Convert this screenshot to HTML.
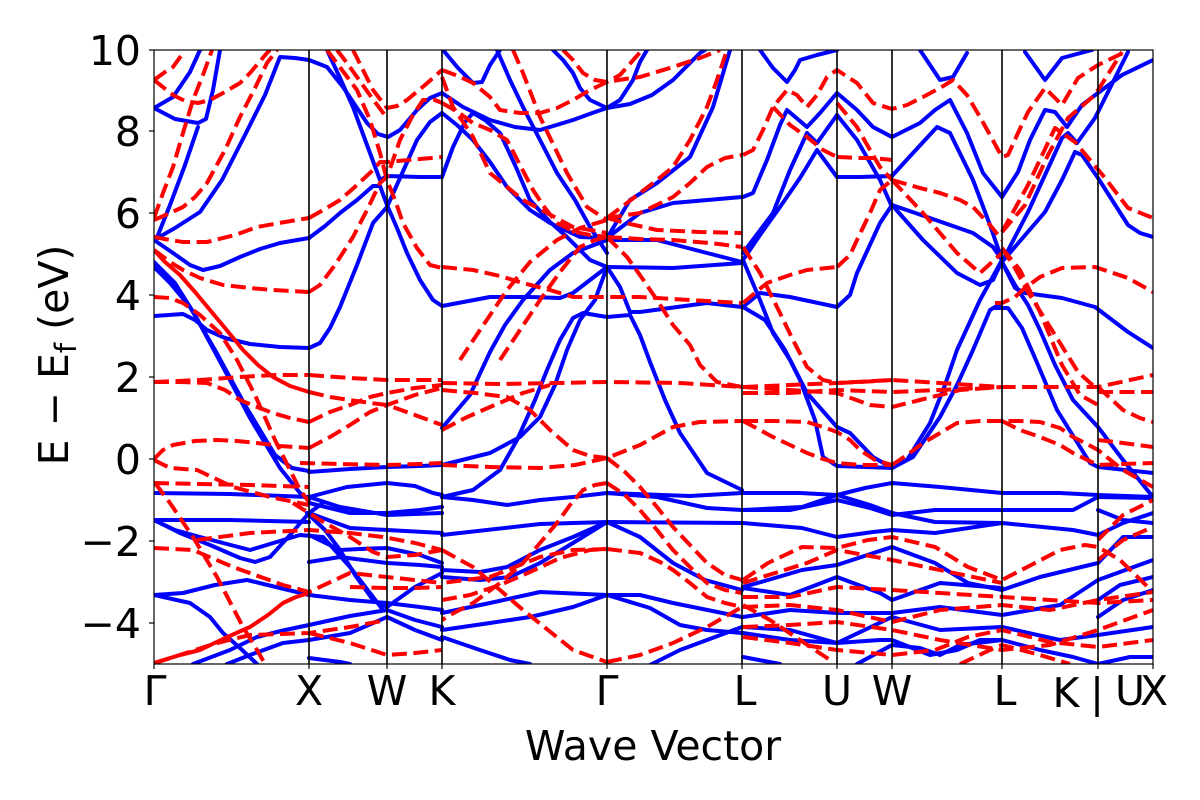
<!DOCTYPE html>
<html><head><meta charset="utf-8"><style>
html,body{margin:0;padding:0;background:#fff;}
svg{display:block;}
text{font-family:"DejaVu Sans","Liberation Sans",sans-serif;fill:#000;}
.b{fill:none;stroke:#0000ff;stroke-width:4;stroke-linejoin:round;stroke-linecap:round;}
.r{fill:none;stroke:#ff0000;stroke-width:4;stroke-dasharray:15 6.5;stroke-linejoin:round;}
.rs{fill:none;stroke:#ff0000;stroke-width:4;stroke-linejoin:round;}
.k{stroke:#000;stroke-width:1.6;}
</style></head><body>
<svg width="1200" height="800" viewBox="0 0 1200 800" xmlns="http://www.w3.org/2000/svg">
<defs><clipPath id="c"><rect x="154" y="50" width="999" height="614"/></clipPath></defs>
<rect width="1200" height="800" fill="#fff"/>
<g clip-path="url(#c)">
<g>
<polyline class="b" points="154,108 173,97 190,72 200,50"/>
<polyline class="b" points="154,108 175,119 198,123 206,119 213,90 220,50"/>
<polyline class="b" points="156,240 170,205 185,165 198,127"/>
<polyline class="b" points="154,240 175,228 200,212 222,180 245,135 265,95 280,57 295,58 309,60"/>
<polyline class="b" points="154,240 173,253 190,265 203,270 220,266 240,257 260,249 280,243 309,238"/>
<polyline class="b" points="154,267 170,283 190,307 215,350 245,405 275,455 292,468 309,471"/>
<polyline class="b" points="154,262 175,283 195,315 222,365 250,418 280,468 300,493 309,500"/>
<polyline class="b" points="154,316 183,314 195,320 207,330 225,338 250,344 280,347 309,348"/>
<polyline class="b" points="154,493 230,494 309,497"/>
<polyline class="b" points="154,520 230,520 309,522"/>
<polyline class="b" points="154,520 175,530 200,537 250,550 300,535 323,537 350,567 383,610"/>
<polyline class="b" points="154,520 180,533 210,545 240,558 255,562 270,557 290,535 309,513 323,503"/>
<polyline class="b" points="154,595 183,593 215,585 247,580 280,588 309,595 350,600 387,603 420,607 442,610"/>
<polyline class="b" points="154,595 190,603 210,617 223,633 240,648 257,664"/>
<polyline class="b" points="193,664 230,650 257,637 285,630 309,625 350,616 387,610"/>
<polyline class="b" points="227,664 250,655 283,643 309,640 350,633 387,617"/>
<polyline class="b" points="309,658 340,662 350,664"/>
<polyline class="b" points="309,60 327,67 343,87 355,105 367,123 378,134 388,137 400,130 417,110 430,98 442,93"/>
<polyline class="b" points="327,50 340,78 353,107 367,145 380,180 387,176 420,177 442,177"/>
<polyline class="b" points="309,348 320,343 330,328 340,307 357,265 373,223 387,207 400,178 417,140 430,122 442,113"/>
<polyline class="b" points="309,238 325,226 340,213 357,200 373,186 380,186 387,205 397,228 407,253 420,280 433,300 442,306"/>
<polyline class="b" points="309,472 350,469 387,467 420,466 442,465"/>
<polyline class="b" points="309,497 347,487 387,483 415,486 433,493 442,495"/>
<polyline class="b" points="309,503 350,513 387,513 420,510 442,507"/>
<polyline class="b" points="309,497 340,507 387,515 442,513"/>
<polyline class="b" points="309,513 350,528 387,530 442,533"/>
<polyline class="b" points="309,535 340,550 360,549 387,548 420,555 442,563"/>
<polyline class="b" points="307,513 325,530 340,550 355,575 373,600 387,607"/>
<polyline class="b" points="309,562 340,557 387,563 420,565 442,567"/>
<polyline class="b" points="387,607 415,587 442,573"/>
<polyline class="b" points="387,610 415,620 442,627"/>
<polyline class="b" points="387,617 415,630 442,640"/>
<polyline class="b" points="442,93 463,107 490,120 515,127 540,130 573,120 595,112 607,108"/>
<polyline class="b" points="442,113 457,125 473,140 490,162 507,187 530,210 550,223 580,237 607,238"/>
<polyline class="b" points="442,177 453,147 465,122 473,113 485,120 500,133 515,165 530,200 550,222 567,237 590,260 607,267"/>
<polyline class="b" points="497,50 510,80 523,107 540,140 557,173 575,200 590,227 607,253"/>
<polyline class="b" points="443,50 458,68 473,83 482,82 490,65 500,50"/>
<polyline class="b" points="607,108 590,100 580,88 573,73 563,60 553,50"/>
<polyline class="b" points="607,108 620,100 633,80 640,62 647,50"/>
<polyline class="b" points="607,108 630,104 652,95 673,80 700,53 705,50"/>
<polyline class="b" points="442,306 490,297 530,297 560,298 573,293 590,280 607,267"/>
<polyline class="b" points="442,465 490,453 520,437 540,417 555,385 567,350 580,320 595,300 607,267"/>
<polyline class="b" points="442,497 473,490 500,470 517,440 535,400 547,370 560,340 573,318 583,313 607,317 630,315 640,335 650,362 665,400 680,433 707,473 742,490"/>
<polyline class="b" points="442,428 470,395 490,352 505,325 523,300 550,270 573,253 607,240"/>
<polyline class="b" points="607,238 613,240 657,240 707,253 742,262"/>
<polyline class="b" points="607,238 640,213 673,203 742,197"/>
<polyline class="b" points="607,267 673,268 742,263"/>
<polyline class="b" points="607,267 620,287 630,312 640,312 707,303 742,307"/>
<polyline class="b" points="607,238 630,200 657,183 690,157 713,107 730,50"/>
<polyline class="b" points="442,497 473,500 507,505 540,500 573,497 607,493 690,496 742,493"/>
<polyline class="b" points="607,493 657,497 707,508 742,510"/>
<polyline class="b" points="442,535 540,524 607,522 742,523"/>
<polyline class="b" points="607,522 640,537 673,563 705,580 742,590"/>
<polyline class="b" points="442,570 480,572 507,567 540,550 573,537 607,522"/>
<polyline class="b" points="442,577 480,580 510,577 540,563 573,543 607,522"/>
<polyline class="b" points="442,613 490,603 540,592 607,595 640,595 673,603 742,617"/>
<polyline class="b" points="607,595 650,608 680,625 707,630 742,633"/>
<polyline class="b" points="640,670 680,650 707,640 742,627"/>
<polyline class="b" points="442,630 490,623 530,617 573,607 607,595"/>
<polyline class="b" points="442,637 480,650 510,660 530,664"/>
<polyline class="b" points="760,50 773,68 787,82 795,70 800,60 817,55 837,50"/>
<polyline class="b" points="743,197 753,193 767,160 780,125 787,110 807,127 820,113 837,93 857,110 873,127 892,137 920,123 935,110 950,100 967,133 983,173 1002,197 1018,172 1030,140 1045,110 1055,112 1067,127 1082,105 1098,93 1122,75 1153,60"/>
<polyline class="b" points="743,253 773,213 790,170 807,133 817,143 837,115 857,140 880,180 892,207"/>
<polyline class="b" points="743,260 760,235 780,207 800,178 817,150 837,177 860,177 892,176"/>
<polyline class="b" points="892,176 913,153 937,127 950,133 973,180 990,225 1002,260"/>
<polyline class="b" points="892,205 927,217 973,233 993,247 1002,260"/>
<polyline class="b" points="892,205 923,240 957,273 980,285 993,280 1002,260"/>
<polyline class="b" points="743,307 760,293 790,297 837,307"/>
<polyline class="b" points="837,307 850,295 857,273 880,223 892,205"/>
<polyline class="b" points="920,50 940,80 953,77 967,53"/>
<polyline class="b" points="1025,52 1045,80 1062,58 1092,50"/>
<polyline class="b" points="1002,262 1028,212 1045,175 1062,138 1068,133 1077,143 1095,118 1110,88 1128,52"/>
<polyline class="b" points="1002,262 1045,212 1062,180 1075,152 1082,155 1098,178 1128,225 1140,233 1153,237"/>
<polyline class="b" points="743,260 760,300 773,333 790,360 800,380 815,420 823,457 837,466 892,468"/>
<polyline class="b" points="743,307 765,320 785,350 807,393 837,427 850,433 873,457 892,468"/>
<polyline class="b" points="892,468 913,457 940,417 957,385 973,350 990,310 1002,303"/>
<polyline class="b" points="892,468 907,460 930,423 945,385 957,350 980,300 1002,260"/>
<polyline class="b" points="1002,262 1015,288 1025,293 1062,298 1095,307 1128,332 1153,348"/>
<polyline class="b" points="995,308 1008,308 1022,328 1038,365 1057,410 1090,463 1098,467 1153,473"/>
<polyline class="b" points="995,275 1002,262 1015,285 1028,305 1040,330 1055,365 1073,400 1098,427 1123,460 1153,497"/>
<polyline class="b" points="742,493 800,493 837,495 865,488 892,483 940,487 1002,493 1060,493 1098,495 1153,497"/>
<polyline class="b" points="743,510 802,507 837,495 870,505 892,513 935,522 1002,523"/>
<polyline class="b" points="743,510 790,510 837,500 870,508 892,515 935,510 1002,510 1073,510 1098,497 1153,498"/>
<polyline class="b" points="743,523 802,528 837,537 873,532 892,530 935,533 1002,523 1073,530 1098,535 1123,523 1153,513"/>
<polyline class="b" points="1098,510 1123,520 1153,523"/>
<polyline class="b" points="743,587 768,580 802,570 837,565 892,547 935,563 968,583 1002,590 1040,577 1098,563 1123,537 1153,537"/>
<polyline class="b" points="743,588 790,595 837,577 880,593 892,600 940,583 1002,588"/>
<polyline class="b" points="743,617 790,610 837,613 892,613 940,607 1002,615 1060,605 1098,580 1153,560"/>
<polyline class="b" points="743,627 790,630 837,643 892,617 940,630 1002,627 1060,640 1098,635 1153,627"/>
<polyline class="b" points="743,633 790,640 837,643 880,640 892,640 930,655 957,650 980,640 1002,640"/>
<polyline class="b" points="743,657 780,664"/>
<polyline class="b" points="857,664 892,645 920,648 940,655 960,645 1002,640 1040,650 1073,657 1098,664"/>
<polyline class="b" points="1098,664 1130,657 1153,657"/>
<polyline class="b" points="1098,600 1120,585 1153,577"/>
<polyline class="b" points="1098,617 1123,600 1153,590"/>
</g>
<g>
<polyline class="r" points="154,80 173,95 185,101 198,103 210,100 223,93 240,83 250,73 267,53 270,50"/>
<polyline class="r" points="154,80 165,72 173,67 183,53"/>
<polyline class="r" points="154,218 163,193 173,167 183,133 193,100 203,75 212,50"/>
<polyline class="r" points="154,220 170,213 183,207 195,197 207,183 225,150 240,117 255,88 267,63 277,50"/>
<polyline class="r" points="154,237 170,240 183,242 207,242 235,235 257,227 285,222 309,218"/>
<polyline class="r" points="154,250 170,262 183,270 200,278 223,285 250,288 273,290 309,292"/>
<polyline class="r" points="154,297 170,298 183,303 200,315 220,333 237,360 255,395 275,440 290,470 300,490 309,502"/>
<polyline class="rs" points="154,250 165,262 180,275 195,292 210,310 225,328 243,350 258,365 273,377 290,386 309,392"/>
<polyline class="r" points="154,382 180,382 207,383 225,390 240,400 257,407 273,413 290,418 309,422"/>
<polyline class="r" points="154,382 200,380 240,377 275,375 309,375"/>
<polyline class="r" points="154,459 163,450 173,445 195,441 217,440 237,441 257,443 280,446 309,448"/>
<polyline class="r" points="154,460 170,468 197,470 233,487 270,497 309,505"/>
<polyline class="r" points="154,483 200,484 250,485 309,487"/>
<polyline class="r" points="155,483 170,503 193,537 217,577 243,627 257,650 265,664"/>
<polyline class="r" points="154,548 193,550 233,567 283,585 309,592 350,573 387,577 442,583"/>
<polyline class="r" points="197,540 250,533 309,530 350,533 383,537 415,543 442,550"/>
<polyline class="r" points="155,663 217,643 250,635 309,633 350,627 387,620"/>
<polyline class="rs" points="154,663 180,655 200,650 225,638 250,627 268,615 283,603 296,597 309,593"/>
<polyline class="r" points="309,218 325,209 340,200 357,185 373,170 380,162 387,162 420,159 442,157"/>
<polyline class="r" points="327,50 342,70 357,90 370,120 380,153 387,180 395,200 403,223 417,248 430,265 442,268"/>
<polyline class="r" points="309,292 320,285 335,265 353,237 367,210 380,183 387,177 393,160 400,140 413,115 423,100 435,100 442,103"/>
<polyline class="r" points="353,50 363,70 373,90 387,108 397,106 407,100 425,85 442,70"/>
<polyline class="r" points="337,50 347,63 357,77 372,98 387,118"/>
<polyline class="r" points="309,375 350,378 387,380 420,380 442,380"/>
<polyline class="r" points="309,392 330,397 350,400 370,403 387,405 415,415 442,425"/>
<polyline class="r" points="309,422 330,412 350,405 370,397 387,393 415,388 442,385"/>
<polyline class="r" points="309,448 330,437 350,425 370,412 387,405 415,395 442,388"/>
<polyline class="r" points="300,463 340,464 387,465 420,464 442,463"/>
<polyline class="r" points="293,503 320,520 350,537 373,552 387,557 415,555 442,550"/>
<polyline class="r" points="350,587 387,588 415,588 442,587"/>
<polyline class="r" points="309,633 350,643 387,655 415,653 442,650"/>
<polyline class="r" points="442,70 458,76 473,83 490,97 500,110 520,113 540,113 557,108 573,100 590,90 607,82 625,79 640,77 673,67 700,58 720,50"/>
<polyline class="r" points="563,50 573,60 583,73 595,80 607,82 620,75 635,58 642,50"/>
<polyline class="r" points="442,103 458,112 473,123 490,130 507,140 520,165 533,190 545,208 557,223 575,232 590,235 607,237"/>
<polyline class="r" points="442,77 453,107 473,137 490,173 523,200 573,227 607,233"/>
<polyline class="r" points="513,50 523,73 540,117 567,173 587,207 607,220"/>
<polyline class="r" points="442,267 473,270 500,276 523,283 550,290 573,297 607,297 640,297 690,300 742,303"/>
<polyline class="r" points="607,218 640,213 673,197 690,183 707,167 725,158 742,155"/>
<polyline class="r" points="607,218 630,224 657,230 700,232 742,233"/>
<polyline class="r" points="607,237 640,239 673,240 710,243 742,247"/>
<polyline class="r" points="607,218 623,206 640,193 657,180 673,167 690,140 707,107 717,80 727,50"/>
<polyline class="r" points="607,237 617,247 627,257 642,278 657,300 673,325 690,345 700,365 717,382 742,387"/>
<polyline class="r" points="460,360 480,330 507,290 530,262 557,240 580,228 607,220"/>
<polyline class="r" points="500,360 520,330 540,300 560,272 580,247 595,240 607,237"/>
<polyline class="r" points="442,390 475,393 507,397 530,410 550,430 573,450 590,456 607,458"/>
<polyline class="r" points="442,383 500,384 557,383 607,382 680,383 742,387"/>
<polyline class="r" points="442,430 465,418 490,407 523,393 550,385"/>
<polyline class="r" points="442,465 490,467 540,468 575,465 607,458 640,445 673,427 700,422 742,421"/>
<polyline class="r" points="607,458 625,472 640,487 657,507 673,527 690,545 707,563 725,575 742,580"/>
<polyline class="r" points="607,483 595,485 583,490 570,505 557,523 540,543 523,563 500,583 473,603 450,615 442,620"/>
<polyline class="r" points="607,483 625,495 640,510 657,530 673,550 690,567 707,583 725,590 742,593"/>
<polyline class="r" points="607,549 573,550 540,557 515,567 490,577 465,580 442,583"/>
<polyline class="r" points="607,549 640,553 660,562 673,570 690,583 707,597 725,603 742,607"/>
<polyline class="r" points="442,550 473,567 500,590 523,610 548,630 573,650 607,662"/>
<polyline class="r" points="607,662 640,655 673,643 707,627 742,607"/>
<polyline class="r" points="442,600 470,595 500,585 530,572 560,558 590,550 607,549"/>
<polyline class="r" points="743,155 753,150 763,130 773,107 787,90 797,95 807,107 817,95 827,77 837,70 857,83 873,103 892,109 907,105 923,97 940,88 953,80 967,95 980,117 990,135 1002,157 1008,155 1018,133 1028,112 1045,88 1062,105 1078,78 1098,65 1125,52"/>
<polyline class="r" points="837,157 860,158 873,158 892,160"/>
<polyline class="r" points="773,107 790,125 807,137 823,150 837,157"/>
<polyline class="r" points="837,103 857,127 870,150 880,167 892,180"/>
<polyline class="r" points="837,267 850,255 857,240 870,213 880,190 892,180"/>
<polyline class="r" points="743,247 760,273 780,313 793,340 807,367 823,380 837,383 860,382 892,380"/>
<polyline class="r" points="743,303 767,283 790,275 807,270 837,267"/>
<polyline class="r" points="892,180 920,188 940,193 960,200 973,207 990,225 1002,240"/>
<polyline class="r" points="892,180 923,213 957,253 980,273 1002,253"/>
<polyline class="r" points="1002,232 1028,185 1055,128 1075,142 1105,178 1128,208 1153,218"/>
<polyline class="r" points="1002,232 1025,205 1048,155 1068,118 1095,95 1122,52"/>
<polyline class="r" points="995,303 1002,303 1015,297 1025,288 1040,277 1062,268 1095,267 1128,278 1153,292"/>
<polyline class="r" points="1002,248 1015,268 1028,292 1055,335 1078,372 1098,390"/>
<polyline class="r" points="1002,248 1020,270 1040,312 1062,365 1080,395 1098,405"/>
<polyline class="r" points="892,465 907,455 923,443 940,433 957,423 980,421 1002,421 1020,421 1040,422 1060,428 1073,437 1085,443 1098,450 1123,470 1153,487"/>
<polyline class="r" points="743,421 775,421 807,422 823,427 837,432 850,440 860,450 875,460 892,465"/>
<polyline class="r" points="743,421 760,430 773,437 790,445 807,453 823,459 837,463 860,465 892,465"/>
<polyline class="r" points="1002,421 1020,430 1040,437 1060,445 1073,453 1098,465 1123,464 1153,463"/>
<polyline class="r" points="743,387 790,385 837,383 892,380 940,383 1002,387 1050,387 1098,387 1153,375"/>
<polyline class="r" points="743,387 790,390 837,393 870,405 892,407 920,400 960,390 1002,387"/>
<polyline class="r" points="743,393 790,393 837,390 892,392 940,390 1002,387"/>
<polyline class="r" points="1098,387 1110,398 1123,410 1140,418 1153,422"/>
<polyline class="r" points="1098,392 1153,392"/>
<polyline class="r" points="1098,440 1123,443 1153,447"/>
<polyline class="r" points="743,580 768,563 802,547 837,548 868,540 892,537 935,547 968,567 1002,580 1035,563 1060,550 1085,545 1098,547 1120,560 1153,592"/>
<polyline class="r" points="743,583 807,563 837,550 892,560 1002,583"/>
<polyline class="r" points="743,607 790,605 837,610 892,622 940,610 1002,605 1050,610 1098,600 1153,592"/>
<polyline class="r" points="743,597 790,597 837,587 892,590 940,593 1002,597 1098,603 1153,600"/>
<polyline class="r" points="743,637 790,643 837,650 892,655 935,650 968,637 1002,630 1050,642 1098,647 1153,640"/>
<polyline class="r" points="743,627 790,625 837,622 892,630 940,640 1002,650 1050,645 1098,630 1153,610"/>
<polyline class="r" points="1098,540 1123,515 1153,500"/>
<polyline class="r" points="1098,560 1123,540 1153,527"/>
<polyline class="r" points="743,605 770,620 800,640 830,660"/>
<polyline class="r" points="960,664 990,650 1002,645 1040,655 1070,664"/>
</g>
</g>
<g class="k">
<line x1="309" y1="50" x2="309" y2="664"/>
<line x1="387" y1="50" x2="387" y2="664"/>
<line x1="442" y1="50" x2="442" y2="664"/>
<line x1="607" y1="50" x2="607" y2="664"/>
<line x1="742" y1="50" x2="742" y2="664"/>
<line x1="837" y1="50" x2="837" y2="664"/>
<line x1="892" y1="50" x2="892" y2="664"/>
<line x1="1002" y1="50" x2="1002" y2="664"/>
<line x1="1098" y1="50" x2="1098" y2="664"/>
</g>
<rect x="154" y="50" width="999" height="614" fill="none" stroke="#000" stroke-width="1.2"/>
<g stroke="#000" stroke-width="1.2">
<line x1="149" y1="50" x2="154" y2="50"/>
<line x1="149" y1="131" x2="154" y2="131"/>
<line x1="149" y1="213" x2="154" y2="213"/>
<line x1="149" y1="295" x2="154" y2="295"/>
<line x1="149" y1="377" x2="154" y2="377"/>
<line x1="149" y1="459" x2="154" y2="459"/>
<line x1="149" y1="541" x2="154" y2="541"/>
<line x1="149" y1="623" x2="154" y2="623"/>
<line x1="154" y1="664" x2="154" y2="669"/>
<line x1="309" y1="664" x2="309" y2="669"/>
<line x1="387" y1="664" x2="387" y2="669"/>
<line x1="442" y1="664" x2="442" y2="669"/>
<line x1="607" y1="664" x2="607" y2="669"/>
<line x1="742" y1="664" x2="742" y2="669"/>
<line x1="837" y1="664" x2="837" y2="669"/>
<line x1="892" y1="664" x2="892" y2="669"/>
<line x1="1002" y1="664" x2="1002" y2="669"/>
<line x1="1098" y1="664" x2="1098" y2="669"/>
<line x1="1153" y1="664" x2="1153" y2="669"/>
</g>
<g font-size="41" text-anchor="end">
<text x="141" y="65">10</text>
<text x="141" y="146">8</text>
<text x="141" y="228">6</text>
<text x="141" y="310">4</text>
<text x="141" y="392">2</text>
<text x="141" y="474">0</text>
<text x="141" y="556">−2</text>
<text x="141" y="638">−4</text>
</g>
<g font-size="41" text-anchor="middle">
<text x="155" y="705">Γ</text>
<text x="309" y="705">X</text>
<text x="387" y="705">W</text>
<text x="442" y="705">K</text>
<text x="607" y="705">Γ</text>
<text x="745" y="705">L</text>
<text x="837" y="705">U</text>
<text x="892" y="705">W</text>
<text x="1005" y="705">L</text>
<text x="1066" y="707">K</text>
<text x="1097" y="707">|</text>
<text x="1130" y="705">U</text>
<text x="1154" y="705">X</text>
<text x="653" y="760">Wave Vector</text>
</g>
<text font-size="41" text-anchor="middle" transform="translate(68,355) rotate(-90)">E − E<tspan font-size="29" dy="8">f</tspan><tspan dy="-8"> (eV)</tspan></text>
</svg>
</body></html>
